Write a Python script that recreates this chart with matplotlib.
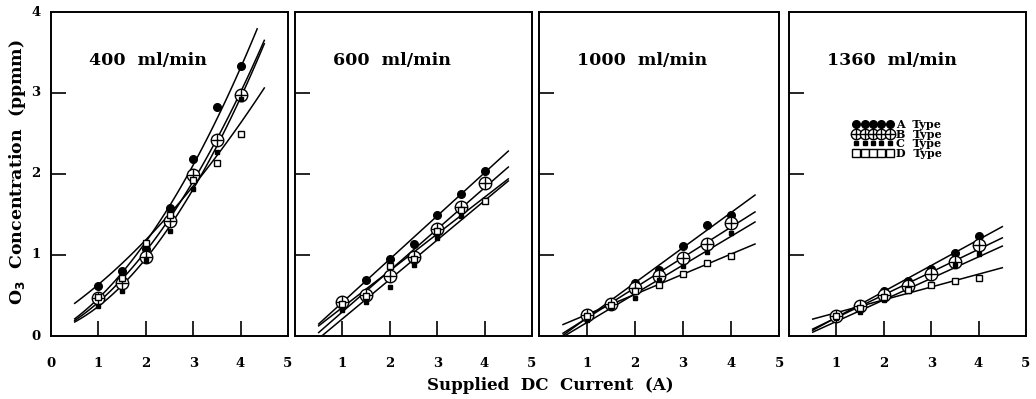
import numpy as np
import matplotlib
matplotlib.use("Agg")
import matplotlib.pyplot as plt
from matplotlib.lines import Line2D

plt.rcParams["font.family"] = ["DejaVu Serif"]
plt.rcParams["font.weight"] = "bold"

# supplied DC current (A)
current = [1.0, 1.5, 2.0, 2.5, 3.0, 3.5, 4.0]
flow_titles = ["400  ml/min", "600  ml/min", "1000  ml/min", "1360  ml/min"]

# O3 concentration (ppmm) per flow rate, types A-D
a_400 = [0.62, 0.80, 1.08, 1.58, 2.18, 2.83, 3.33]
b_400 = [0.47, 0.66, 0.98, 1.42, 1.99, 2.42, 2.97]
c_400 = [0.37, 0.55, 0.94, 1.30, 1.82, 2.27, 2.92]
d_400 = [0.48, 0.72, 1.15, 1.50, 1.92, 2.14, 2.49]

a_600 = [0.44, 0.69, 0.95, 1.14, 1.50, 1.75, 2.04]
b_600 = [0.42, 0.51, 0.74, 0.98, 1.32, 1.59, 1.89]
c_600 = [0.32, 0.42, 0.60, 0.88, 1.21, 1.48, 1.68]
d_600 = [0.40, 0.50, 0.86, 0.95, 1.30, 1.55, 1.67]

a_1000 = [0.28, 0.40, 0.65, 0.81, 1.11, 1.37, 1.50]
b_1000 = [0.26, 0.40, 0.59, 0.74, 0.96, 1.14, 1.39]
c_1000 = [0.20, 0.36, 0.47, 0.69, 0.86, 1.04, 1.27]
d_1000 = [0.25, 0.38, 0.55, 0.63, 0.77, 0.90, 0.99]

a_1360 = [0.26, 0.39, 0.55, 0.68, 0.83, 1.02, 1.24]
b_1360 = [0.25, 0.37, 0.51, 0.62, 0.76, 0.91, 1.12]
c_1360 = [0.22, 0.30, 0.45, 0.55, 0.64, 0.88, 1.01]
d_1360 = [0.25, 0.35, 0.48, 0.57, 0.63, 0.68, 0.72]

# 400 ml/min trend curves (x, y)
curve_x_400 = [0.5, 1.0, 2.0, 3.0, 4.0, 4.5]
curve_a_400 = [0.20, 0.50, 1.12, 2.12, 3.35, 3.98]
curve_b_400 = [0.18, 0.45, 1.00, 1.95, 3.00, 3.65]
curve_c_400 = [0.17, 0.38, 0.93, 1.83, 2.95, 3.60]
curve_d_400 = [0.42, 0.62, 1.16, 1.90, 2.60, 3.07]
curve_end_400 = [4.35, 4.5, 4.5, 4.5]

panels = [
    [a_400, b_400, c_400, d_400],
    [a_600, b_600, c_600, d_600],
    [a_1000, b_1000, c_1000, d_1000],
    [a_1360, b_1360, c_1360, d_1360],
]
curves_400 = [curve_a_400, curve_b_400, curve_c_400, curve_d_400]
type_labels = ["A  Type", "B  Type", "C  Type", "D  Type"]

# axes positions in pixels (left, right) on a 1036x399 canvas
W, H = 1036, 399
ax_lr = [(51, 288), (295, 532), (539, 779), (789, 1026)]
ax_top, ax_bot = 12, 336

fig = plt.figure(figsize=(W / 100, H / 100), dpi=100)

for i, (l, r) in enumerate(ax_lr):
    ax = fig.add_axes([l / W, 1 - ax_bot / H, (r - l) / W, (ax_bot - ax_top) / H])
    a, b, c, d = panels[i]

    # trend lines
    if i == 0:
        for cy, xend in zip(curves_400, curve_end_400):
            coef = np.polyfit(curve_x_400, cy, 2)
            xs = np.linspace(0.5, xend, 80)
            ax.plot(xs, np.polyval(coef, xs), color="black", lw=1.1, zorder=2)
    else:
        xs = np.linspace(0.5, 4.5, 2)
        for ys in panels[i]:
            coef = np.polyfit(current, ys, 1)
            ax.plot(xs, np.polyval(coef, xs), color="black", lw=1.1, zorder=2)

    ax.plot(current, a, "o", color="black", ms=5.5, zorder=3)
    ax.plot(current, b, "o", mfc="white", mec="black", mew=1.0, ms=9, zorder=4)
    ax.plot(current, b, "+", color="black", mew=1.0, ms=9, zorder=5)
    ax.plot(current, c, "s", color="black", ms=3.5, zorder=6)
    ax.plot(current, d, "s", mfc="white", mec="black", mew=1.0, ms=5, zorder=6)

    ax.set_xlim(0, 5)
    ax.set_ylim(0, 4)
    ax.text(0.16, 0.85, flow_titles[i], transform=ax.transAxes,
            fontsize=12.5, fontweight="bold", ha="left", va="center")

    for s in ax.spines.values():
        s.set_linewidth(1.4)

    ax.set_xticks([1, 2, 3, 4])
    ax.set_yticks([1, 2, 3])
    ax.tick_params(direction="in", length=11, width=1.2)
    ax.set_yticklabels([])
    ax.set_xticklabels([])

    # tick labels under / left of the axis
    xlabs = [0, 1, 2, 3, 4, 5] if i == 0 else [1, 2, 3, 4, 5]
    for xv in xlabs:
        ax.text(xv, -0.065, str(xv), transform=ax.get_xaxis_transform(),
                ha="center", va="top", fontsize=9.5, fontweight="bold")
    if i == 0:
        for yv in [0, 1, 2, 3, 4]:
            ax.text(-0.045, yv, str(yv), transform=ax.get_yaxis_transform(),
                    ha="right", va="center", fontsize=9.5, fontweight="bold")

    if i == 3:
        handles = [
            Line2D([], [], ls="none", marker="o", color="black", ms=5.5),
            (Line2D([], [], ls="none", marker="o", mfc="white", mec="black", ms=7.5),
             Line2D([], [], ls="none", marker="+", color="black", ms=7.5)),
            Line2D([], [], ls="none", marker="s", color="black", ms=3.2),
            Line2D([], [], ls="none", marker="s", mfc="white", mec="black", ms=6),
        ]
        ax.legend(handles, type_labels, loc="upper left", bbox_to_anchor=(0.27, 0.67),
                  frameon=False, numpoints=5, handlelength=3.6, handletextpad=0.25,
                  labelspacing=-0.12, borderpad=0, borderaxespad=0,
                  prop={"size": 8, "weight": "bold"})

fig.text(550 / W, 1 - 386 / H, "Supplied  DC  Current  (A)", ha="center", va="center",
         fontsize=12, fontweight="bold")
fig.text(18 / W, 1 - 172 / H, "O$_3$  Concentration  (ppmm)", rotation=90,
         ha="center", va="center", fontsize=12.5, fontweight="bold")

fig.savefig("out.png", dpi=100)
